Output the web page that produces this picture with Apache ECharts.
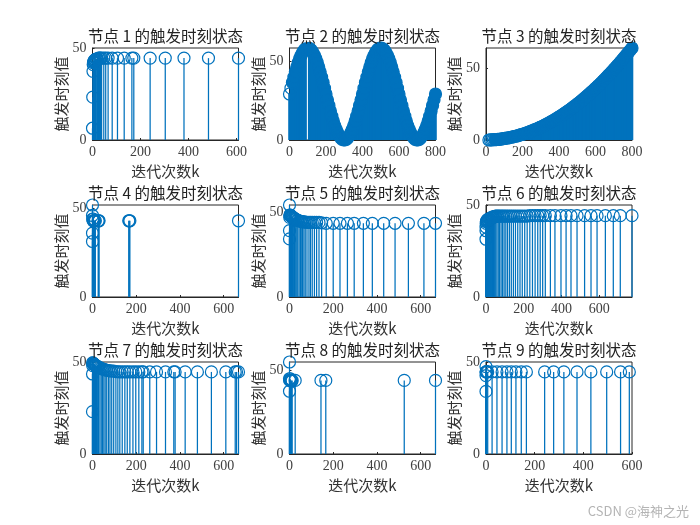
<!DOCTYPE html>
<html>
<head>
<meta charset="utf-8">
<script src="https://cdn.jsdelivr.net/npm/echarts@6/dist/echarts.min.js"></script>
<style>
  html, body { margin: 0; background: #fff; }
  #main { width: 700px; height: 525px; }
</style>
</head>
<body>
<div id="main"></div>
<script>
// values, node by node
const node1K = [0,1,2,3,4,5,6,8,10,12,15,18,21,25,29,33,38,47,55,65,82,104,132,164,172,240,303,381,483,608];
const node1V = [6.4,23.3,37.3,41,42,42.5,43,43,43.5,43.5,44,44,44,44.5,44.5,44.5,44.5,44.5,44.5,44.5,44.5,44.5,44.5,44.5,44.5,44.5,44.5,44.5,44.5,44.5];

// nothing fires between k=88 and k=108, that is the white line in the first hump
const node2K = [0,8,16,24,32,40,48,56,64,72,80,88,108,112,120,128,136,144,152,160,168,176,184,192,200,208,216,224,232,240,248,256,264,272,280,288,296,304,312,320,328,336,344,352,360,368,376,384,392,400,408,416,424,432,440,448,456,464,472,480,488,496,504,512,520,528,536,544,552,560,568,576,584,592,600,608,616,624,632,640,648,656,664,672,680,688,696,704,712,720,728,736,744,752,760,768,776,784,792,800];
const node2V = [29.3,33,36.6,40.1,43.4,46.5,49.4,51.9,54,55.8,57.2,58.1,58.4,58.1,57.2,55.8,54,51.9,49.4,46.5,43.4,40.1,36.6,33,29.3,25.6,22,18.5,15.2,12.1,9.2,6.7,4.6,2.8,1.4,0.5,0.1,0.1,0.5,1.4,2.8,4.6,6.7,9.2,12.1,15.2,18.5,22,25.6,29.3,33,36.6,40.1,43.4,46.5,49.4,51.9,54,55.8,57.2,58.1,58.5,58.5,58.1,57.2,55.8,54,51.9,49.4,46.5,43.4,40.1,36.6,33,29.3,25.6,22,18.5,15.2,12.1,9.2,6.7,4.6,2.8,1.4,0.5,0.1,0.1,0.5,1.4,2.8,4.6,6.7,9.2,12.1,15.2,18.5,22,25.6,29.3];

const node3K = [16,24,32,40,48,56,64,72,80,88,96,104,112,120,128,136,144,152,160,168,176,184,192,200,208,216,224,232,240,248,256,264,272,280,288,296,304,312,320,328,336,344,352,360,368,376,384,392,400,408,416,424,432,440,448,456,464,472,480,488,496,504,512,520,528,536,544,552,560,568,576,584,592,600,608,616,624,632,640,648,656,664,672,680,688,696,704,712,720,728,736,744,752,760,768,776,784,792,800];
const node3V = [0,0.1,0.1,0.2,0.2,0.3,0.4,0.5,0.6,0.8,0.9,1.1,1.3,1.4,1.6,1.9,2.1,2.3,2.6,2.8,3.1,3.4,3.7,4,4.3,4.7,5,5.4,5.8,6.2,6.6,7,7.4,7.8,8.3,8.8,9.2,9.7,10.2,10.8,11.3,11.8,12.4,13,13.5,14.1,14.8,15.4,16,16.7,17.3,18,18.7,19.4,20.1,20.8,21.5,22.3,23,23.8,24.6,25.4,26.2,27,27.9,28.7,29.6,30.5,31.4,32.3,33.2,34.1,35,36,37,37.9,38.9,39.9,41,42,43,44.1,45.2,46.2,47.3,48.4,49.6,50.7,51.8,53,54.2,55.4,56.6,57.8,59,60.2,61.5,62.7,64];

const node4K = [0,0,0,0,1,2,3,5,7,10,13,26,28,30,166,168,171,668];
const node4V = [51.9,46,36,31.3,44,44,43,43,43,43,43,43,43,43,43,43,43,43];

const node5K = [0,0,0,1,2,3,4,6,8,10,12,14,17,20,23,26,30,34,38,44,50,56,60,66,72,80,89,96,104,114,124,135,147,168,200,231,265,296,338,379,431,483,544,615,668];
const node5V = [54.3,39.2,34.3,47,48.4,48.4,48,48,47.6,47.5,47.2,47,46.8,46.5,46.2,46,45.8,45.4,45.2,45,44.7,44.5,44.4,44.3,44.2,44,44,44,44,44,44,44,43.8,43.5,43.5,43.5,43.5,43.5,43.5,43.5,43.5,43.5,43.5,43.5,43.5];

const node6K = [0,0,0,1,2,3,4,6,8,10,13,16,19,22,25,28,31,34,37,40,44,48,52,58,65,72,80,88,96,105,114,124,134,145,156,168,180,192,205,218,232,246,260,274,287,300,314,341,365,397,424,450,482,522,556,588,632,674,711,773];
const node6V = [31.4,36,38,40,41,41,41.5,41.5,42,42,42,42.5,42.5,42.5,43,43,43,43.2,43.5,43.5,43.6,43.8,44,44,44,44,44,44,44,44,44,44,44,44,44,44,44,44,44,44,44.2,44.2,44.2,44.2,44.2,44.2,44.2,44.2,44.2,44.2,44.2,44.2,44.2,44.2,44.2,44.2,44.2,44.2,44.2,44.2];

const node7K = [0,0,0,1,2,3,4,5,6,7,8,9,10,11,12,14,16,18,21,24,28,34,40,46,52,58,65,73,80,88,97,107,116,125,136,148,159,171,185,198,212,226,232,262,293,334,372,378,424,480,544,610,653,659,668];
const node7V = [23,43.5,49.5,48,49.5,49,49,49,48.8,48.8,48.6,48.6,48.5,48.4,48.2,48,48,47.8,47.5,47.5,47.2,46.8,46.5,46.2,46,45.8,45.5,45.3,45.2,45.1,45,44.8,44.7,44.6,44.6,44.6,44.6,44.6,44.6,44.6,44.6,44.6,44.6,44.6,44.6,44.6,44.6,44.6,44.6,44.6,44.6,44.6,44.6,44.6,44.6];

const node8K = [0,0,0,1,2,3,5,8,10,12,26,144,166,525,668];
const node8V = [55,37.5,45,44,44,45,44,44,43.5,44,44,44,44,44,44];

const node9K = [0,0,0,0,1,2,3,7,25,45,66,86,104,123,145,166,241,278,320,374,431,496,553,589];
const node9V = [34,42.6,47.5,44.6,44.6,44.6,44.6,44.6,44.6,44.6,44.6,44.6,44.6,44.6,44.6,44.6,44.6,44.6,44.6,44.6,44.6,44.6,44.6,44.6];

const allK = [node1K, node2K, node3K, node4K, node5K, node6K, node7K, node8K, node9K];
const allV = [node1V, node2V, node3V, node4V, node5V, node6V, node7V, node8V, node9V];
const xMax = [608, 800, 800, 668, 668, 773, 668, 668, 600];
const yMax = [50, 58.6, 64, 51.9, 54.3, 50, 50, 55, 50];
const xTicks600 = [0, 200, 400, 600];
const xTicks800 = [0, 200, 400, 600, 800];
const yTicks = [0, 50];

const titles = ['节点 1 的触发时刻状态', '节点 2 的触发时刻状态', '节点 3 的触发时刻状态',
                '节点 4 的触发时刻状态', '节点 5 的触发时刻状态', '节点 6 的触发时刻状态',
                '节点 7 的触发时刻状态', '节点 8 的触发时刻状态', '节点 9 的触发时刻状态'];
const xLabel = '迭代次数k';
const yLabel = '触发时刻值';

const BLUE = '#0072BD';
const CLEAR = 'rgba(0,0,0,0)';
const CJK = '"Noto Sans CJK SC", sans-serif';
const NUM = '"Liberation Serif", serif';
const lefts = [92.5, 289.5, 486];
const tops = [48, 205, 362];

// nodes 2 and 3 fire at nearly every k in the reference, their circles merge into a solid area.
// Only the first circles stay open.
const solidFrom = [Infinity, 16, 48, Infinity, Infinity, Infinity, Infinity, Infinity, Infinity];

function stem(params, api) {
    const node = params.seriesIndex / 2;
    const a = api.coord([api.value(0), 0]);
    const b = api.coord([api.value(0), api.value(1)]);
    return {
        type: 'line',
        shape: { x1: a[0], y1: a[1], x2: b[0], y2: b[1] },
        style: { stroke: BLUE, lineWidth: solidFrom[node] < Infinity ? 2.6 : 1.25 }
    };
}

function axisCommon(ticks) {
    return {
        type: 'value',
        min: 0,
        nameLocation: 'middle',
        nameTextStyle: { fontFamily: CJK, fontSize: 15, color: '#333' },
        splitLine: { show: false },
        axisLine: { onZero: false, lineStyle: { color: '#262626', width: 1 } },
        axisTick: { inside: true, length: 2, customValues: ticks, lineStyle: { color: '#262626' } },
        axisLabel: { customValues: ticks, fontFamily: NUM, fontSize: 14, color: '#404040' }
    };
}

const grid = [], xAxis = [], yAxis = [], series = [], title = [];
for (let i = 0; i < 9; i++) {
    const left = lefts[i % 3];
    const top = tops[Math.floor(i / 3)];
    const points = allK[i].map((k, j) => [k, allV[i][j]]);
    const ticks = xMax[i] >= 800 ? xTicks800 : xTicks600;

    grid.push({ show: true, left: left, top: top, width: 146, height: 92,
        borderColor: '#262626', borderWidth: 1, backgroundColor: '#fff' });

    const xa = axisCommon(ticks);
    xa.gridIndex = i;
    xa.max = xMax[i];
    xa.name = xLabel;
    xa.nameGap = 24;
    xa.axisLabel.margin = 5;
    xAxis.push(xa);

    const ya = axisCommon(yTicks);
    ya.gridIndex = i;
    ya.max = yMax[i];
    ya.name = yLabel;
    ya.nameGap = 22;
    ya.axisLabel.margin = 6;
    ya.axisLabel.padding = [0, 0, 4, 0];
    yAxis.push(ya);

    series.push({ type: 'custom', xAxisIndex: i, yAxisIndex: i, data: points,
        renderItem: stem, clip: false, silent: true, z: 3 });
    series.push({ type: 'scatter', xAxisIndex: i, yAxisIndex: i, data: points,
        symbol: 'circle', symbolSize: 12, clip: false, silent: true, z: 4,
        itemStyle: {
            color: p => (p.data[0] >= solidFrom[i] ? BLUE : CLEAR),
            borderColor: BLUE, borderWidth: 1.2, opacity: 1
        } });

    title.push({ text: titles[i], left: left + 73, top: top - 20, textAlign: 'center', padding: 0,
        textStyle: { fontFamily: CJK, fontSize: 15.5, fontWeight: 'normal', color: '#222' } });
}

const chart = echarts.init(document.getElementById('main'));
chart.setOption({
    animation: false,
    backgroundColor: '#fff',
    title: title,
    grid: grid,
    xAxis: xAxis,
    yAxis: yAxis,
    series: series,
    graphic: [{ type: 'text', right: 11, top: 505, silent: true,
        style: { text: 'CSDN @海神之光', fontFamily: CJK, fontSize: 13, fill: '#b4b4b4' } }]
});
</script>
</body>
</html>
